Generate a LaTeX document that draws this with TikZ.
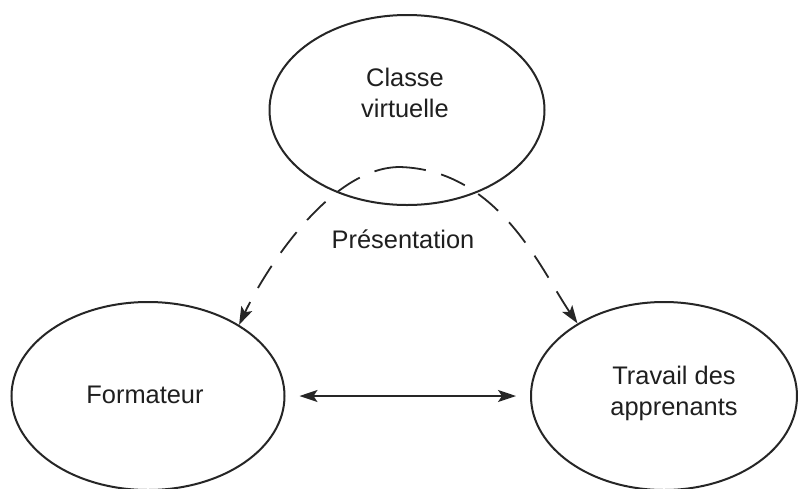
\documentclass[tikz,border=0pt]{standalone}
\usepackage{fontspec}
\setmainfont{Liberation Sans}
\usetikzlibrary{shapes.geometric,arrows.meta}
\begin{document}
\begin{tikzpicture}[x=0.5pt,y=-0.5pt,
  oval/.style={draw=black!85,ellipse,line width=1pt,inner sep=0pt},
  txt/.style={font=\fontsize{12.7}{15.5}\selectfont,align=center,text=black!88},
  tip/.style={-{Stealth[length=9pt,width=6pt,inset=2pt]}},
  dashedarrow/.style={tip,draw=black!85,line width=0.9pt,dash pattern=on 13pt off 8pt},
  dbl/.style={{Stealth[length=9pt,width=6pt,inset=2pt]}-{Stealth[length=9pt,width=6pt,inset=2pt]},draw=black!85,line width=0.9pt}]
\useasboundingbox[fill=white] (0,0) rectangle (798,488);
\node[oval,minimum width=137.5pt,minimum height=95pt] (cv) at (407,110) {};
\node[oval,minimum width=136.5pt,minimum height=94pt] (fo) at (148,396) {};
\node[oval,minimum width=133pt,minimum height=94pt] (tr) at (664,396) {};
\node[txt] (cvt) at (405,93) {Classe\\virtuelle};
\node[txt] (fot) at (145,395) {Formateur};
\node[txt] (trt) at (674,393) {Travail des\\apprenants};
\node[txt] (pres) at (403,239) {Présentation};
\coordinate (peak) at (400,167);
\draw[dashedarrow] (peak) .. controls (330,167) and (265,270) .. (fo.38.8);
\draw[dashedarrow] (peak) .. controls (500,170) and (542,272) .. (tr.140.9);
\draw[dbl,shorten <=7pt,shorten >=7pt] (fo.east) -- (tr.west);
\end{tikzpicture}
\end{document}
